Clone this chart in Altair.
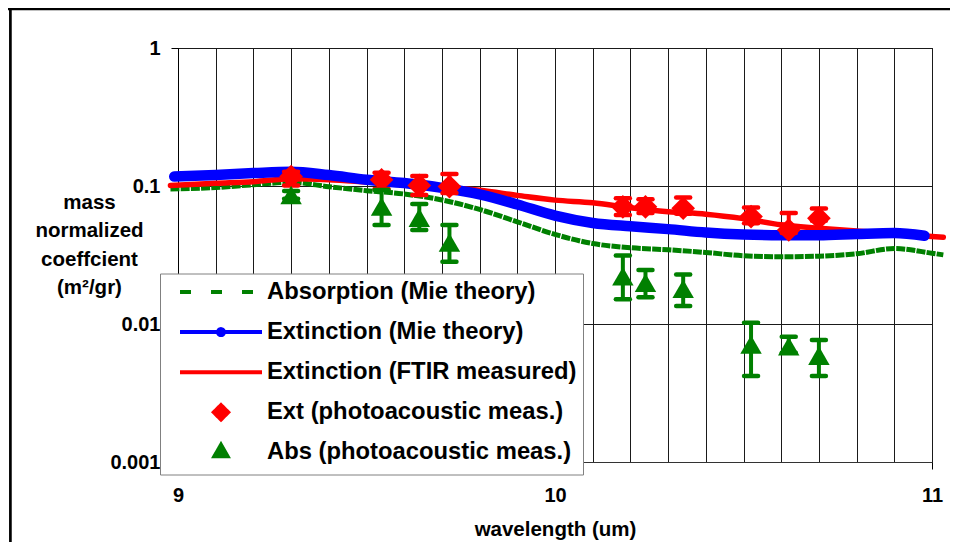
import altair as alt
import pandas as pd

# ---------------- data ----------------
# Absorption (Mie theory) - green dashed curve
abs_mie_wl = [8.98, 9.1, 9.2, 9.3, 9.4, 9.5, 9.6, 9.7, 9.8, 9.9, 10.0, 10.1, 10.2, 10.3,
              10.4, 10.5, 10.6, 10.7, 10.8, 10.9, 11.0, 11.03]
abs_mie_val = [0.0951, 0.0974, 0.1022, 0.1063, 0.0989, 0.0925, 0.0875, 0.0792, 0.0676, 0.055,
               0.0446, 0.0383, 0.0357, 0.0345, 0.033, 0.0312, 0.0307, 0.031, 0.0323, 0.0352,
               0.0326, 0.0317]

# Extinction (Mie theory) - thick blue curve
ext_mie_wl = [8.99, 9.1, 9.2, 9.3, 9.4, 9.5, 9.6, 9.7, 9.8, 9.9, 10.0, 10.1, 10.2, 10.3,
              10.4, 10.5, 10.6, 10.7, 10.8, 10.9, 10.98]
ext_mie_val = [0.117, 0.120, 0.124, 0.127, 0.120, 0.111, 0.105, 0.097, 0.087, 0.0735, 0.061,
               0.054, 0.051, 0.0487, 0.046, 0.0445, 0.044, 0.044, 0.0449, 0.0456, 0.0436]

# Extinction (FTIR measured) - red curve
ftir_wl = [8.98, 9.1, 9.2, 9.3, 9.4, 9.5, 9.6, 9.7, 9.8, 9.9, 10.0, 10.1, 10.2, 10.3,
           10.4, 10.5, 10.6, 10.7, 10.8, 10.9, 11.0, 11.03]
ftir_val = [0.101, 0.1046, 0.1074, 0.113, 0.111, 0.107, 0.103, 0.098, 0.093, 0.0855, 0.079,
            0.0756, 0.0695, 0.0651, 0.0625, 0.058, 0.0523, 0.0495, 0.0473, 0.0455, 0.043, 0.0425]

# photoacoustic measurements
pa_wl = [9.30, 9.54, 9.64, 9.72, 10.18, 10.24, 10.34, 10.52, 10.62, 10.70]
ext_pa = [0.117, 0.111, 0.101, 0.099, 0.0706, 0.0706, 0.069, 0.060, 0.048, 0.0585]
ext_pa_lo = [0.101, 0.095, 0.086, 0.089, 0.0616, 0.0636, 0.063, 0.0538, 0.0456, 0.0560]
ext_pa_hi = [0.127, 0.125, 0.118, 0.122, 0.0814, 0.0802, 0.0825, 0.0700, 0.0636, 0.0688]
abs_pa = [0.086, 0.071, 0.059, 0.039, 0.0222, 0.0199, 0.018, 0.0071, 0.0069, 0.0059]
abs_pa_lo = [0.081, 0.0522, 0.048, 0.0283, 0.0151, 0.0156, 0.0135, 0.0042, 0.0062, 0.0042]
abs_pa_hi = [0.092, 0.0935, 0.074, 0.0522, 0.0313, 0.0246, 0.0228, 0.0102, 0.0081, 0.00766]

series_names = ["Absorption (Mie theory)", "Extinction (Mie theory)",
                "Extinction (FTIR measured)", "Ext (photoacoustic meas.)",
                "Abs (photoacoustic meas.)"]

x_ticks = [round(9 + 0.1 * i, 1) for i in range(21)]
y_ticks = [0.001, 0.01, 0.1, 1]

GREEN, BLUE, RED = "#008000", "#0000FF", "#FF0000"
FONT = "Liberation Sans"

# ---------------- frames ----------------
abs_mie = pd.DataFrame({"wl": abs_mie_wl, "v": abs_mie_val})
ext_mie = pd.DataFrame({"wl": ext_mie_wl, "v": ext_mie_val})
ftir = pd.DataFrame({"wl": ftir_wl, "v": ftir_val})
ext_pts = pd.DataFrame({"wl": pa_wl, "v": ext_pa, "lo": ext_pa_lo, "hi": ext_pa_hi})
abs_pts = pd.DataFrame({"wl": pa_wl, "v": abs_pa, "lo": abs_pa_lo, "hi": abs_pa_hi})
legend_df = pd.DataFrame({"series": series_names})
one = pd.DataFrame({"a": [0]})

XS = alt.Scale(domain=[9, 11], nice=False, zero=False)
YS = alt.Scale(type="log", domain=[0.001, 1], nice=False)

is_int = "abs(datum.value - round(datum.value)) < 0.001"
x_axis = alt.Axis(
    values=x_ticks, grid=True, gridColor="#1a1a1a", gridWidth=1, gridOpacity=1,
    labelExpr=f"{is_int} ? format(datum.value, 'd') : ''",
    tickOpacity={"condition": {"test": is_int, "value": 1}, "value": 0},
    tickSize=7, tickColor="#000", domainColor="#333", labelFlush=False,
    labelPadding=16, labelFontSize=20, labelFontWeight="bold", labelColor="#000",
    labelFont=FONT, title="wavelength (um)", titleFont=FONT, titleFontSize=20.5,
    titleFontWeight="bold", titleColor="#000", titleBaseline="alphabetic",
    titleAlign="center", titleX=377, titleY=73,
)
y_axis = alt.Axis(
    values=y_ticks, format="~g", grid=True, gridColor="#1a1a1a", gridWidth=1, gridOpacity=1,
    tickSize=7, tickColor="#000", domainColor="#000", labelFlush=False,
    labelPadding=11, labelFontSize=20, labelFontWeight="bold", labelColor="#000",
    labelFont=FONT,
    title=["mass", "normalized", "coeffcient", "(m\u00b2/gr)"], titleFont=FONT,
    titleFontSize=20.5, titleFontWeight="bold", titleColor="#000", titleAngle=0,
    titleAlign="center", titleBaseline="alphabetic", titleX=-89, titleY=160,
    titleLineHeight=28.5,
)

X = alt.X("wl:Q", scale=XS, axis=x_axis)
Y = alt.Y("v:Q", scale=YS, axis=y_axis)
Ylo = alt.Y("lo:Q", scale=YS, axis=y_axis)
Yhi = alt.Y("hi:Q", scale=YS, axis=y_axis)

# outer chart border (decoration, kept inside the page)
border_v = alt.Chart(one).mark_rule(color="#000", strokeWidth=2.7).encode(
    x=alt.value(-167.6), y=alt.value(-40), y2=alt.value(498))
border_h = alt.Chart(one).mark_rule(color="#000", strokeWidth=2.7).encode(
    x=alt.value(-170), x2=alt.value(779.5), y=alt.value(-39.1))

green_line = alt.Chart(abs_mie).mark_line(
    color=GREEN, strokeWidth=5, strokeDash=[9, 1.2], interpolate="monotone"
).encode(x=X, y=Y)
red_line = alt.Chart(ftir).mark_line(
    color=RED, strokeWidth=5.5, interpolate="monotone", strokeCap="round"
).encode(x=X, y=Y)
blue_line = alt.Chart(ext_mie).mark_line(
    color=BLUE, strokeWidth=10.5, interpolate="monotone", strokeCap="round"
).encode(x=X, y=Y)


def err_layers(df, color, shape, size):
    bars = alt.Chart(df).mark_rule(color=color, strokeWidth=4).encode(
        x=X, y=Ylo, y2="hi:Q")
    cap_lo = alt.Chart(df).mark_point(
        shape="stroke", size=196, stroke=color, strokeWidth=4.5, strokeCap="round",
        opacity=1, filled=False
    ).encode(x=X, y=Ylo)
    cap_hi = alt.Chart(df).mark_point(
        shape="stroke", size=196, stroke=color, strokeWidth=4.5, strokeCap="round",
        opacity=1, filled=False
    ).encode(x=X, y=Yhi)
    marks = alt.Chart(df).mark_point(
        shape=shape, size=size, filled=True, color=color, opacity=1
    ).encode(x=X, y=Y)
    return [bars, cap_lo, cap_hi, marks]


ext_layers = err_layers(ext_pts, RED, "diamond", 560)
abs_layers = err_layers(abs_pts, GREEN, "triangle-up", 460)

# legend (drawn by Vega-Lite from the scales; the layer itself draws nothing)
EXT = "M0,-0.76M0,0.76"          # same vertical extent for every legend symbol
LINE = "M-4.1,0H4.1" + EXT
legend_colors = [GREEN, BLUE, RED, RED, GREEN]
legend = alt.Legend(
    title=None, orient="none", legendX=-18, legendY=225.5, padding=6.5, rowPadding=8.1,
    labelFont=FONT, labelFontSize=23.8, labelFontWeight="bold", labelColor="#000",
    labelOffset=34, symbolOffset=42.5, symbolSize=400, symbolStrokeWidth=4,
    fillColor="#FFFFFF", strokeColor="#808080", labelLimit=0,
)
legend_layer = alt.Chart(legend_df).mark_point(filled=True, opacity=1).encode(
    fill=alt.Fill("series:N", legend=legend, scale=alt.Scale(
        domain=series_names, range=legend_colors)),
    stroke=alt.Stroke("series:N", legend=legend, scale=alt.Scale(
        domain=series_names, range=legend_colors)),
    shape=alt.Shape("series:N", legend=legend, scale=alt.Scale(
        domain=series_names,
        range=[LINE,
               LINE + "M-0.3,0A0.3,0.3,0,1,1,0.3,0A0.3,0.3,0,1,1,-0.3,0",
               LINE,
               "M0,-0.72L0.72,0L0,0.72L-0.72,0Z" + EXT,
               "M0,-0.755L0.65,0.377L-0.65,0.377Z" + EXT])),
    strokeDash=alt.StrokeDash("series:N", legend=legend, scale=alt.Scale(
        domain=series_names,
        range=[[11, 20], [1, 0], [1, 0], [1, 0], [1, 0]])),
).transform_filter("false")

chart = alt.layer(
    green_line, red_line, blue_line, *ext_layers, *abs_layers, legend_layer,
    border_v, border_h,
).properties(
    width=754, height=414,
    padding={"left": 170, "top": 40, "right": 18, "bottom": 80},
    autosize=alt.AutoSizeParams(type="none"),
    background="#FFFFFF",
).configure(font=FONT).configure_view(stroke="#000", strokeWidth=1)

chart.save("out.html", embed_options={"renderer": "svg", "actions": False})
